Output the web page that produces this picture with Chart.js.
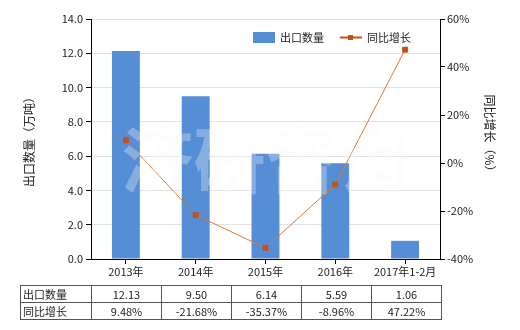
<!DOCTYPE html>
<html lang="zh">
<head>
<meta charset="UTF-8">
<title>出口数量</title>
<script src="https://cdn.jsdelivr.net/npm/chart.js@4.4.0/dist/chart.umd.min.js"></script>
<style>
    body { margin: 0; background: #fff; }
    #wrap { position: relative; width: 520px; height: 330px; }
    #tbl {
        position: absolute; left: 20px; top: 285px;
        border-collapse: collapse;
        font-family: "Noto Sans CJK SC", sans-serif; font-size: 11px; color: #222;
    }
    #tbl td { border: 1px solid #555; height: 16px; padding: 0; text-align: center; line-height: 16px; }
    #tbl td.head { text-align: left; padding-left: 2px; width: 68px; }
    #tbl td.val { width: 69px; }
</style>
</head>
<body>
<div id="wrap">
    <canvas id="chart" width="520" height="330"></canvas>
    <table id="tbl"></table>
</div>

<script>
    // data
    const categories = ['2013年', '2014年', '2015年', '2016年', '2017年1-2月'];
    const exportQty = [12.13, 9.50, 6.14, 5.59, 1.06];
    const growth = [9.48, -21.68, -35.37, -8.96, 47.22];
    const seriesNames = ['出口数量', '同比增长'];
    const leftTitle = '出口数量（万吨）';
    const rightTitle = '同比增长（%）';

    const barColor = '#558ED5';
    const lineColor = '#E4752A';
    const pointColor = '#C5511A';
    const font = '"Noto Sans CJK SC", sans-serif';

    // table under the chart
    const tbl = document.getElementById('tbl');
    let r1 = '<tr><td class="head">' + seriesNames[0] + '</td>';
    let r2 = '<tr><td class="head">' + seriesNames[1] + '</td>';
    for (let i = 0; i < categories.length; i++) {
        r1 += '<td class="val">' + exportQty[i].toFixed(2) + '</td>';
        r2 += '<td class="val">' + growth[i].toFixed(2) + '%</td>';
    }
    tbl.innerHTML = r1 + '</tr>' + r2 + '</tr>';

    // titles, legend, watermark
    const extras = {
        id: 'extras',
        afterDatasetsDraw(chart) {
            const ctx = chart.ctx;
            const a = chart.chartArea;
            ctx.save();
            ctx.font = 'bold 72px ' + font;
            ctx.fillStyle = 'rgba(248,248,248,0.3)';
            ctx.textAlign = 'center';
            ctx.textBaseline = 'middle';
            ctx.fillText('济研咨询', (a.left + a.right) / 2, 160);
            ctx.restore();
        },
        afterDraw(chart) {
            const ctx = chart.ctx;
            const a = chart.chartArea;
            const cy = (a.top + a.bottom) / 2;
            ctx.save();
            ctx.font = '12px ' + font;
            ctx.fillStyle = '#222';
            ctx.textAlign = 'center';
            ctx.textBaseline = 'middle';
            ctx.translate(29, cy);
            ctx.rotate(-Math.PI / 2);
            ctx.fillText(leftTitle, 0, 0);
            ctx.restore();

            ctx.save();
            ctx.font = '12px ' + font;
            ctx.fillStyle = '#222';
            ctx.textAlign = 'center';
            ctx.textBaseline = 'middle';
            ctx.translate(490, cy - 3);
            ctx.rotate(Math.PI / 2);
            ctx.fillText(rightTitle, 0, 0);
            ctx.restore();

            // legend
            ctx.save();
            ctx.font = '11px ' + font;
            ctx.fillStyle = barColor;
            ctx.fillRect(253, 32, 22, 11);
            ctx.fillStyle = '#222';
            ctx.textBaseline = 'middle';
            ctx.fillText(seriesNames[0], 280, 38);
            ctx.strokeStyle = pointColor;
            ctx.lineWidth = 2;
            ctx.beginPath();
            ctx.moveTo(340, 37.5);
            ctx.lineTo(362, 37.5);
            ctx.stroke();
            ctx.fillStyle = pointColor;
            ctx.fillRect(348, 35, 5, 5);
            ctx.fillStyle = '#222';
            ctx.fillText(seriesNames[1], 367, 38);
            ctx.restore();
        }
    };

    new Chart(document.getElementById('chart'), {
        data: {
            labels: categories,
            datasets: [{
                type: 'line',
                label: seriesNames[1],
                data: growth,
                yAxisID: 'y2',
                borderColor: lineColor,
                borderWidth: 1,
                pointStyle: 'rect',
                pointRadius: 3.5,
                pointBackgroundColor: pointColor,
                pointBorderColor: pointColor,
                tension: 0,
                order: 0
            }, {
                type: 'bar',
                label: seriesNames[0],
                data: exportQty,
                yAxisID: 'y',
                backgroundColor: barColor,
                barPercentage: 0.4,
                categoryPercentage: 1,
                order: 1
            }]
        },
        options: {
            responsive: false,
            animation: false,
            layout: { padding: { top: 19, left: 0, right: 0, bottom: 0 } },
            plugins: { legend: { display: false }, tooltip: { enabled: false } },
            scales: {
                x: {
                    afterFit: s => { s.height = 71; },
                    grid: { drawOnChartArea: false, offset: false, color: '#000', tickLength: 5 },
                    border: { color: '#000', width: 1 },
                    ticks: { color: '#222', font: { family: font, size: 11 }, padding: 1, maxRotation: 0 }
                },
                y: {
                    position: 'left',
                    min: 0, max: 14,
                    afterFit: s => { s.width = 91; },
                    grid: { color: '#e3e3e3', tickColor: '#000', tickLength: 5 },
                    border: { color: '#000', width: 1 },
                    ticks: {
                        stepSize: 2, color: '#222', padding: 3,
                        font: { family: font, size: 11 },
                        callback: v => v.toFixed(1)
                    }
                },
                y2: {
                    position: 'right',
                    min: -40, max: 60,
                    afterFit: s => { s.width = 80; },
                    grid: { drawOnChartArea: false, color: '#000', tickLength: 5 },
                    border: { color: '#000', width: 1 },
                    ticks: {
                        stepSize: 20, color: '#222', padding: 2,
                        font: { family: font, size: 11 },
                        callback: v => v + '%'
                    }
                }
            }
        },
        plugins: [extras]
    });
</script>
</body>
</html>
